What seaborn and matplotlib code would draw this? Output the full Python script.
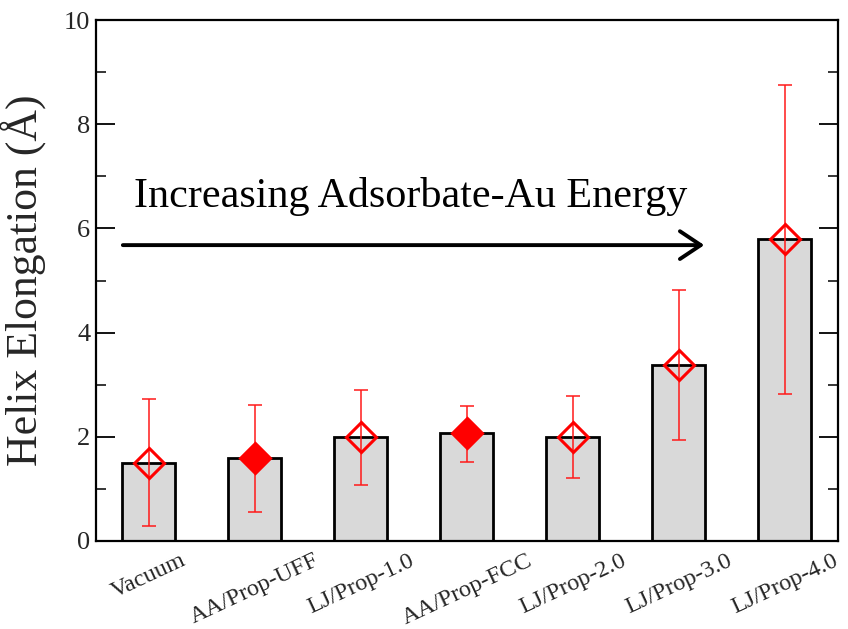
import matplotlib
matplotlib.use("Agg")
import matplotlib.pyplot as plt
import seaborn as sns
import pandas as pd
from matplotlib.ticker import MultipleLocator

categories = ["Vacuum", "AA/Prop-UFF", "LJ/Prop-1.0", "AA/Prop-FCC",
              "LJ/Prop-2.0", "LJ/Prop-3.0", "LJ/Prop-4.0"]
elongation = [1.50, 1.59, 2.00, 2.07, 2.00, 3.38, 5.79]
err_upper = [2.72, 2.61, 2.90, 2.60, 2.79, 4.82, 8.76]
err_lower = [0.29, 0.56, 1.08, 1.52, 1.21, 1.94, 2.82]
atomistic = [False, True, False, True, False, False, False]

sns.set_theme(style="white")
plt.rcParams["font.family"] = ["Liberation Serif", "DejaVu Serif"]

df = pd.DataFrame({"system": categories, "elong": elongation})

fig, ax = plt.subplots(figsize=(8.48, 6.29), dpi=100)
fig.subplots_adjust(left=0.113, right=0.988, top=0.968, bottom=0.14)

sns.barplot(data=df, x="system", y="elong", order=categories, color="#d9d9d9",
            width=0.5, edgecolor="black", linewidth=2.0, saturation=1,
            errorbar=None, ax=ax, zorder=2)

xs = list(range(len(categories)))
yerr = [[e - lo for e, lo in zip(elongation, err_lower)],
        [hi - e for e, hi in zip(elongation, err_upper)]]
ax.errorbar(xs, elongation, yerr=yerr, fmt="none", ecolor="#ff1a1a",
            elinewidth=1.1, capsize=5, capthick=1.1, zorder=3)

for x, y, filled in zip(xs, elongation, atomistic):
    ax.plot(x, y, marker="D", markersize=15, markeredgewidth=2.2,
            markeredgecolor="red", markerfacecolor="red" if filled else "none",
            linestyle="none", zorder=4)

# trend arrow with caption
ax.annotate("", xy=(5.24, 5.68), xytext=(-0.245, 5.68),
            arrowprops=dict(arrowstyle="->,head_length=1.5,head_width=1.0",
                            color="black", lw=2.8, shrinkA=0, shrinkB=0,
                            mutation_scale=10))
ax.text(-0.14, 6.41, "Increasing Adsorbate-Au Energy", fontsize=30.3,
        ha="left", va="baseline", color="black")

ax.set_xlim(-0.5, 6.5)
ax.set_ylim(0, 10)
ax.yaxis.set_major_locator(MultipleLocator(2))
ax.yaxis.set_minor_locator(MultipleLocator(1))
ax.tick_params(axis="y", which="major", direction="in", length=14, width=1.3,
               left=True, right=True, labelsize=19, pad=4, color="black")
ax.tick_params(axis="y", which="minor", direction="in", length=7, width=1.1,
               left=True, right=True, color="black")
ax.tick_params(axis="x", which="both", bottom=False, top=False, labelsize=17.5, pad=0.5)
plt.setp(ax.get_xticklabels(), rotation=25, ha="center")

ax.set_xlabel("")
ax.set_ylabel("Helix Elongation (Å)", fontsize=31.5, labelpad=12)

for s in ax.spines.values():
    s.set_color("black")
    s.set_linewidth(1.6)

fig.savefig("out.png", dpi=100)
